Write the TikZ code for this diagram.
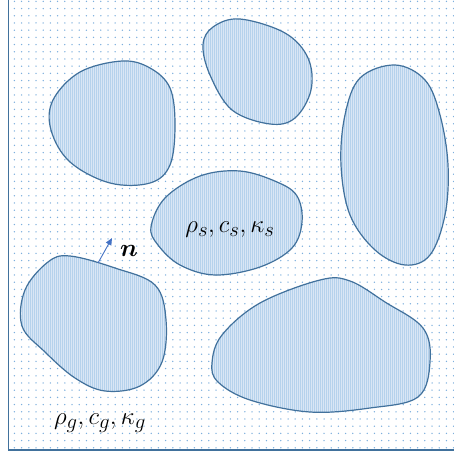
\documentclass[tikz,border=0pt]{standalone}
\usepackage{amsmath,amssymb,bm}
\usepackage{tikz}
\usetikzlibrary{arrows.meta,patterns.meta}

\definecolor{edgeblue}{HTML}{41719C}
\definecolor{arrowblue}{HTML}{4472C4}
\definecolor{dotblue}{HTML}{5B9BD5}
\definecolor{grainfill}{HTML}{D9E6F5}

\begin{document}
\begin{tikzpicture}[x=1pt, y=-1pt,
        grain/.style={draw=edgeblue, line width=1.2pt,
            preaction={fill=grainfill},
            preaction={pattern={Lines[angle=90, distance=2pt, line width=0.5pt]}, pattern color=dotblue!45}},
        label/.style={font=\fontsize{28}{32}\selectfont, inner sep=0pt},
        arrow/.style={-{Triangle[length=7pt, width=6pt]}, arrowblue, line width=0.9pt},
    ]
        % Frame and gas background
        \useasboundingbox (0,0) rectangle (454,455);
        \fill[white] (0,0) rectangle (454,455);
        \fill[pattern={Dots[distance=7.2pt, radius=0.75pt]}, pattern color=dotblue!80] (10,0) rectangle (454,449);
        \draw[edgeblue, line width=1.5pt] (8.5,0) -- (8.5,450) -- (454,450);

        % Grains (solid)
        \draw[grain] plot[smooth cycle, tension=0.6] coordinates {(122,61) (80,72) (53,100) (51,130) (70,162) (110,183) (150,183) (170,165) (175,125) (170,88) (150,68)};
        \draw[grain] plot[smooth cycle, tension=0.6] coordinates {(240,19) (213,27) (203,45) (210,75) (232,110) (270,124) (295,118) (311,90) (308,58) (285,33)};
        \draw[grain] plot[smooth cycle, tension=0.6] coordinates {(395,65) (360,78) (345,115) (341,165) (350,215) (375,250) (405,265) (430,255) (445,215) (448,165) (440,115) (425,80)};
        \draw[grain] plot[smooth cycle, tension=0.6] coordinates {(151,227) (165,198) (200,176) (240,171) (277,182) (297,196) (302,222) (292,248) (260,267) (215,275) (180,265) (158,245)};
        \draw[grain] plot[smooth cycle, tension=0.6] coordinates {(70,256) (115,268) (155,285) (166,320) (162,362) (140,386) (105,391) (75,378) (45,352) (22,326) (25,290) (48,262)};
        \draw[grain] plot[smooth cycle, tension=0.6] coordinates {(212,363) (222,335) (260,303) (320,280) (350,281) (385,302) (423,328) (430,362) (418,397) (370,408) (310,412) (250,400) (218,382)};

        % Labels
        \node[label] (solid) at (230,230) {$\rho_s, c_s, \kappa_s$};
        \node[label] (gas) at (100,423) {$\rho_g, c_g, \kappa_g$};
        \node[label] (normal) at (129,251) {$\bm{n}$};

        % Outward normal on the grain surface
        \coordinate (foot) at (98,263);
        \coordinate (tip) at (112,238);
        \draw[arrow] (foot) -- (tip);

    \end{tikzpicture}
\end{document}
